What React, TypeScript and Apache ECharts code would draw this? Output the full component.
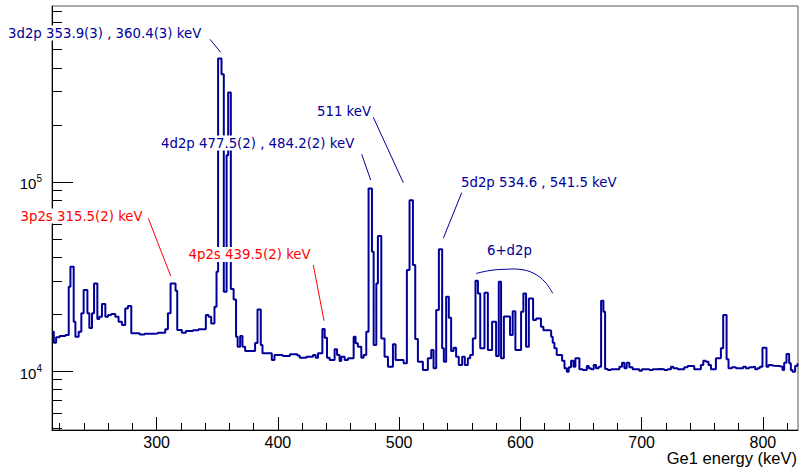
import React, { useEffect, useRef } from "react";
import * as echarts from "echarts";

// Histogram: left bin edges (keV) and counts per bin (Ge1 spectrum)
const binEdges = [
  213.7, 215.2, 217.1, 220.0, 224.7, 227.5, 228.9, 231.6, 233.0, 235.7,
  237.9, 239.8, 242.9, 244.5, 246.7, 248.4, 251.1, 252.7, 254.9, 257.7,
  259.9, 262.6, 265.9, 268.6, 271.4, 274.1, 276.3, 279.1, 286.0, 290.0,
  296.0, 301.0, 307.1, 309.3, 311.5, 315.6, 317.0, 320.8, 324.1, 330.0,
  334.5, 340.6, 342.8, 345.0, 347.7, 349.4, 350.7, 353.5, 355.4, 357.7,
  359.0, 361.2, 363.5, 365.5, 366.8, 368.9, 370.8, 373.0, 381.2, 383.2,
  385.9, 387.3, 395.0, 397.2, 404.0, 410.0, 416.0, 418.0, 423.5, 429.0,
  431.2, 433.1, 436.7, 438.6, 440.5, 442.7, 446.8, 448.8, 450.9, 452.3,
  455.1, 457.8, 462.5, 464.1, 466.0, 468.8, 470.7, 472.9, 474.8, 477.6,
  479.0, 481.2, 482.5, 485.3, 488.0, 490.8, 494.9, 497.1, 503.7, 506.4,
  508.6, 511.4, 513.3, 515.5, 519.6, 523.7, 526.5, 528.4, 530.6, 532.8,
  535.5, 536.9, 538.8, 541.0, 542.9, 544.9, 547.0, 549.2, 552.0, 554.2,
  556.7, 558.6, 560.8, 563.0, 565.0, 566.9, 570.4, 573.2, 576.7, 580.0,
  582.2, 584.1, 586.4, 591.5, 593.7, 595.9, 600.6, 602.5, 604.7, 607.0,
  610.5, 613.0, 617.0, 619.0, 624.0, 625.4, 626.7, 628.1, 630.0, 634.4,
  636.4, 638.3, 639.9, 641.8, 643.8, 645.4, 648.7, 651.5, 654.8, 656.4,
  658.3, 660.5, 662.4, 664.6, 666.6, 668.5, 669.9, 672.1, 674.8, 681.7,
  683.9, 685.8, 687.7, 689.9, 692.6, 698.1, 700.3, 706.4, 709.1, 711.9,
  716.0, 718.7, 721.5, 724.2, 726.1, 729.7, 735.2, 738.0, 743.4, 748.9,
  750.9, 753.0, 755.2, 757.2, 761.3, 765.4, 767.3, 770.1, 771.7, 774.5,
  777.8, 783.8, 786.0, 788.7, 791.5, 793.7, 795.6, 797.5, 799.7, 803.0,
  804.7, 806.6, 809.3, 813.5, 816.2, 817.6, 819.5, 821.7, 823.1, 824.4,
  826.6, 828.6,
];
const histEnd = 829;
const binCounts = [
  16130, 14110, 15070, 15310, 15500, 27880, 35560, 18220, 15180, 16130,
  20180, 26780, 20180, 16870, 20180, 29060, 18830, 19360, 22590, 19360,
  19760, 20000, 19360, 18220, 17500, 21440, 22050, 15820, 15600, 15750,
  15800, 15950, 16610, 20180, 29060, 26600, 16470, 15940, 16300, 16450,
  16610, 19760, 19360, 17860, 21860, 33460, 448500, 370700, 26240, 138400,
  296700, 27120, 23860, 15180, 13440, 15310, 13440, 12750, 14060, 21180,
  13720, 12400, 11430, 12150, 12000, 12250, 12100, 11760, 11900, 12150,
  11760, 12400, 16670, 15000, 11760, 11430, 13020, 12150, 11290, 11900,
  11430, 11670, 15180, 14010, 13440, 11760, 12150, 16130, 92300, 42700,
  13720, 29060, 51670, 14880, 11900, 10540, 13840, 11430, 10980, 34170,
  80060, 36310, 14760, 11200, 10120, 11670, 12910, 10330, 21000, 44100,
  13180, 11200, 24690, 19120, 12750, 13280, 11900, 10760, 11900, 10760,
  11670, 12150, 14880, 30000, 25730, 13180, 25920, 12910, 18220, 12000,
  29640, 11700, 19400, 15500, 20700, 12910, 20570, 25730, 13440, 24210,
  18600, 18970, 17140, 16450, 16330, 15180, 14110, 13180, 12150, 11330,
  10330, 9915, 10460, 11330, 10540, 11670, 10210, 10120, 10620, 10330,
  10210, 10760, 10330, 10540, 23510, 20570, 10250, 10120, 10210, 10540,
  11060, 10330, 11060, 10460, 10210, 10040, 10210, 10120, 10210, 10250,
  10210, 10120, 10210, 10540, 10330, 10210, 10460, 10620, 10210, 10760,
  11330, 11200, 10760, 10210, 11670, 13180, 19760, 11530, 10330, 10460,
  10330, 10540, 10330, 10460, 10540, 10210, 10330, 10540, 13280, 10540,
  10760, 10670, 10620, 10540, 10120, 11060, 12300, 10980, 10120, 9915,
  10620, 10980,
];

const xMajorTicks = [300, 400, 500, 600, 700, 800];
const xMinorTicks = [
  220, 240, 260, 280, 320, 340, 360, 380, 420, 440, 460, 480, 520, 540, 560,
  580, 620, 640, 660, 680, 720, 740, 760, 780, 820,
];
const yMajorTicks = [10000, 100000];
const yMinorTicks = [
  5000, 6000, 7000, 8000, 9000, 20000, 30000, 40000, 50000, 60000, 70000,
  80000, 90000, 200000, 300000, 400000, 500000, 600000, 700000, 800000,
];

const X_MIN = 213.7;
const X_MAX = 829;
const Y_MIN = 4879;
const Y_MAX = 850600;

const NAVY = "#000099";
const RED = "#ff0000";
const ANN_FONT = "DejaVu Sans";

export default function App() {
  const ref = useRef<HTMLDivElement>(null);

  useEffect(() => {
    if (!ref.current) return;
    const chart = echarts.init(ref.current, undefined, { renderer: "svg" });

    const data: [number, number][] = binEdges.map((e, i) => [e, binCounts[i]]);
    data.push([histEnd, binCounts[binCounts.length - 1]]);

    const annText = (text: string, x: number, y: number, color: string) => ({
      type: "text",
      x,
      y,
      style: {
        text,
        fill: color,
        font: `13.3px "${ANN_FONT}"`,
        textAlign: "left",
        textVerticalAlign: "middle",
        backgroundColor: "#ffffff",
        padding: [1, 0, 1, 0],
      },
      z: 100,
    });
    const annLine = (x1: number, y1: number, x2: number, y2: number, color: string) => ({
      type: "line",
      shape: { x1, y1, x2, y2 },
      style: { stroke: color, lineWidth: 1 },
      z: 100,
    });

    chart.setOption({
      animation: false,
      backgroundColor: "#ffffff",
      grid: {
        left: 52,
        right: 1,
        top: 6,
        bottom: 39,
        show: true,
        borderColor: "#555555",
        borderWidth: 1,
        backgroundColor: "transparent",
      },
      xAxis: [
        {
          type: "value",
          min: X_MIN,
          max: X_MAX,
          position: "bottom",
          axisLine: { show: true, onZero: false, lineStyle: { color: "#000", width: 1 } },
          axisTick: {
            show: true,
            inside: true,
            length: 13,
            customValues: xMajorTicks,
            lineStyle: { color: "#000", width: 1 },
          },
          axisLabel: {
            customValues: xMajorTicks,
            fontFamily: "Liberation Sans",
            fontSize: 16,
            color: "#000",
            margin: 4,
          },
          splitLine: { show: false },
        },
        {
          type: "value",
          min: X_MIN,
          max: X_MAX,
          position: "bottom",
          axisLine: { show: false, onZero: false },
          axisTick: {
            show: true,
            inside: true,
            length: 7,
            customValues: xMinorTicks,
            lineStyle: { color: "#000", width: 1 },
          },
          axisLabel: { show: false },
          splitLine: { show: false },
        },
      ],
      yAxis: [
        {
          type: "log",
          logBase: 10,
          min: Y_MIN,
          max: Y_MAX,
          position: "left",
          axisLine: { show: true, onZero: false, lineStyle: { color: "#000", width: 1 } },
          axisTick: {
            show: true,
            inside: true,
            length: 21,
            customValues: yMajorTicks,
            lineStyle: { color: "#000", width: 1 },
          },
          axisLabel: {
            customValues: yMajorTicks,
            margin: 10,
            formatter: (v: number) => `{b|10}{s|${Math.round(Math.log10(v))}}`,
            rich: {
              b: { fontFamily: "Liberation Sans", fontSize: 15, color: "#000", padding: [4, 0, 0, 0] },
              s: { fontFamily: "Liberation Sans", fontSize: 10, color: "#000", padding: [0, 0, 6, 0] },
            },
          },
          splitLine: { show: false },
        },
        {
          type: "log",
          logBase: 10,
          min: Y_MIN,
          max: Y_MAX,
          position: "left",
          axisLine: { show: false, onZero: false },
          axisTick: {
            show: true,
            inside: true,
            length: 10,
            customValues: yMinorTicks,
            lineStyle: { color: "#000", width: 1 },
          },
          axisLabel: { show: false },
          splitLine: { show: false },
        },
      ],
      series: [
        {
          type: "line",
          step: "end",
          data,
          xAxisIndex: 0,
          yAxisIndex: 0,
          symbol: "none",
          lineStyle: { color: NAVY, width: 2 },
          z: 10,
        },
      ],
      graphic: [
        annText("3d2p 353.9(3) , 360.4(3) keV", 8, 33, NAVY),
        annLine(210, 39.3, 220.7, 52.3, NAVY),
        annText("4d2p 477.5(2) , 484.2(2) keV", 161, 143, NAVY),
        annLine(361.7, 154.3, 370.7, 180, NAVY),
        annText("511 keV", 317, 111, NAVY),
        annLine(373.3, 117.3, 403.3, 182.7, NAVY),
        annText("5d2p 534.6 , 541.5 keV", 461, 182.5, NAVY),
        annLine(461.7, 192.7, 443.3, 238.3, NAVY),
        annText("6+d2p", 487, 250.5, NAVY),
        {
          type: "polyline",
          shape: {
            points: [
              [476, 273.5],
              [490, 270.5],
              [505, 269.3],
              [521, 269.5],
              [534, 273.5],
              [545, 282],
              [552.7, 293.3],
            ],
            smooth: 0.4,
          },
          style: { stroke: NAVY, lineWidth: 1, fill: "none" },
          z: 100,
        },
        annText("3p2s 315.5(2) keV", 20.5, 216, RED),
        annLine(148.3, 218.3, 170.7, 276, RED),
        annText("4p2s 439.5(2) keV", 188.5, 254.5, RED),
        annLine(313.3, 265, 324, 320.7, RED),
        {
          type: "text",
          right: 2,
          y: 458,
          style: {
            text: "Ge1 energy (keV)",
            fill: "#000",
            font: '16.5px "Liberation Sans"',
            textAlign: "right",
            textVerticalAlign: "middle",
          },
          z: 100,
        },
      ],
    });

    return () => chart.dispose();
  }, []);

  return (
    <div
      ref={ref}
      style={{ position: "fixed", left: 0, top: 0, width: 799, height: 469, background: "#fff" }}
    />
  );
}
